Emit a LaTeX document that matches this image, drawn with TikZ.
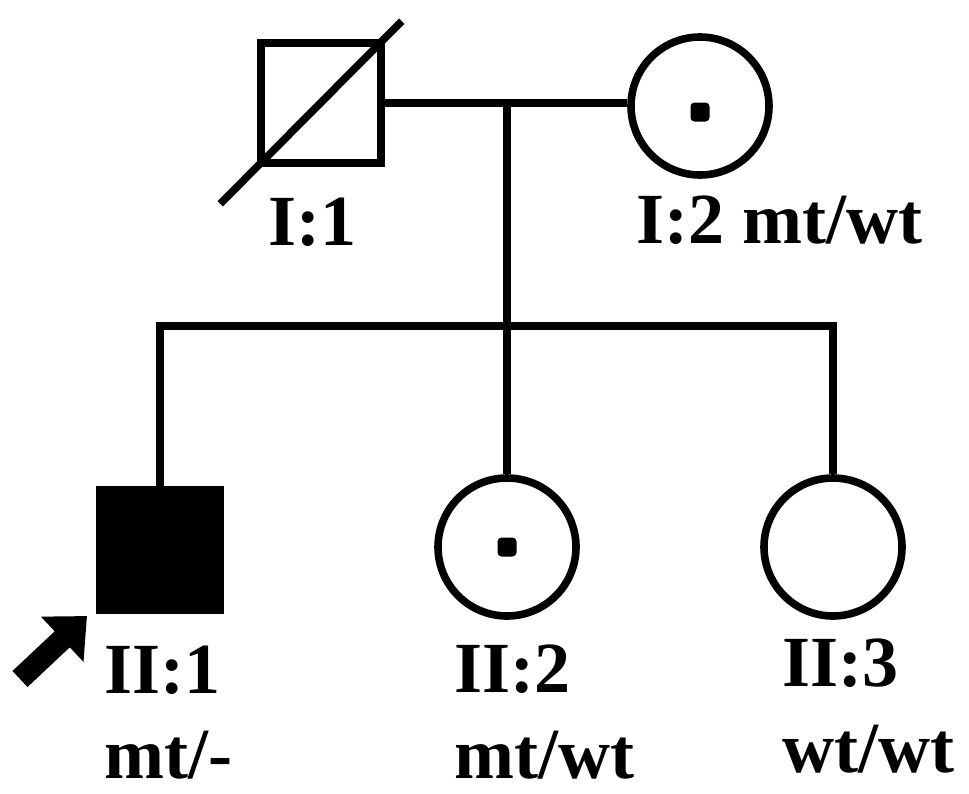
\documentclass[tikz,border=0pt]{standalone}
\usepackage{fontspec}
\setmainfont{Liberation Serif}
\usetikzlibrary{arrows.meta,positioning}

\tikzset{
  male/.style={draw, line width=3.8pt, rectangle, minimum size=60pt, inner sep=0pt},
  female/.style={draw, line width=3.8pt, circle, minimum size=69pt, inner sep=0pt},
  carrier/.style={fill, rectangle, rounded corners=2pt, minimum size=9.5pt, inner sep=0pt},
  lbl/.style={anchor=base west, inner sep=0pt, font=\fontsize{36}{40}\selectfont\bfseries},
  link/.style={line width=3.8pt},
}

\begin{document}
\begin{tikzpicture}[x=0.5pt,y=-0.5pt]
    \useasboundingbox (0,0) rectangle (969,793);

    % Generation I
    \node[male] (I1) at (321,103) {};
    \node[female] (I2) at (700,106) {};
    \node[carrier] (I2dot) at ([yshift=-3pt]I2.center) {};
    \draw[link] ([shift={(-37,37)}]I1.south west) -- ([shift={(17,-18)}]I1.north east);

    % Generation II
    \node[male, fill] (II1) at (160,550) {};
    \node[female] (II2) at (507,547) {};
    \node[carrier] (II2dot) at (II2) {};
    \node[female] (II3) at (833,547) {};

    % Lines of descent
    \coordinate (mate) at (507,103);
    \coordinate (sib) at (507,326);
    \draw[link] (I1.east) -- (I1.east -| I2.west);
    \draw[link] (mate) -- (II2.north);
    \draw[link] (II1.north) -- (II1.north |- sib) -- (II3.north |- sib) -- (II3.north);

    % Proband
    \coordinate (ptail) at (20,679);
    \coordinate (ptip) at (87,616);
    \draw[line width=11pt, -{Triangle[length=17pt,width=30pt]}] (ptail) -- (ptip);

    % Labels
    \node[lbl] (tI1) at (268,245) {I:1};
    \node[lbl] (tI2) at (636,243) {I:2 mt/wt};
    \node[lbl] (tII1) at (104,693) {II:1};
    \node[lbl] (gII1) at (104,778) {mt/-};
    \node[lbl] (tII2) at (454,692) {II:2};
    \node[lbl] (gII2) at (454,778) {mt/wt};
    \node[lbl] (tII3) at (782,686) {II:3};
    \node[lbl] (gII3) at (782,772) {wt/wt};
\end{tikzpicture}
\end{document}
